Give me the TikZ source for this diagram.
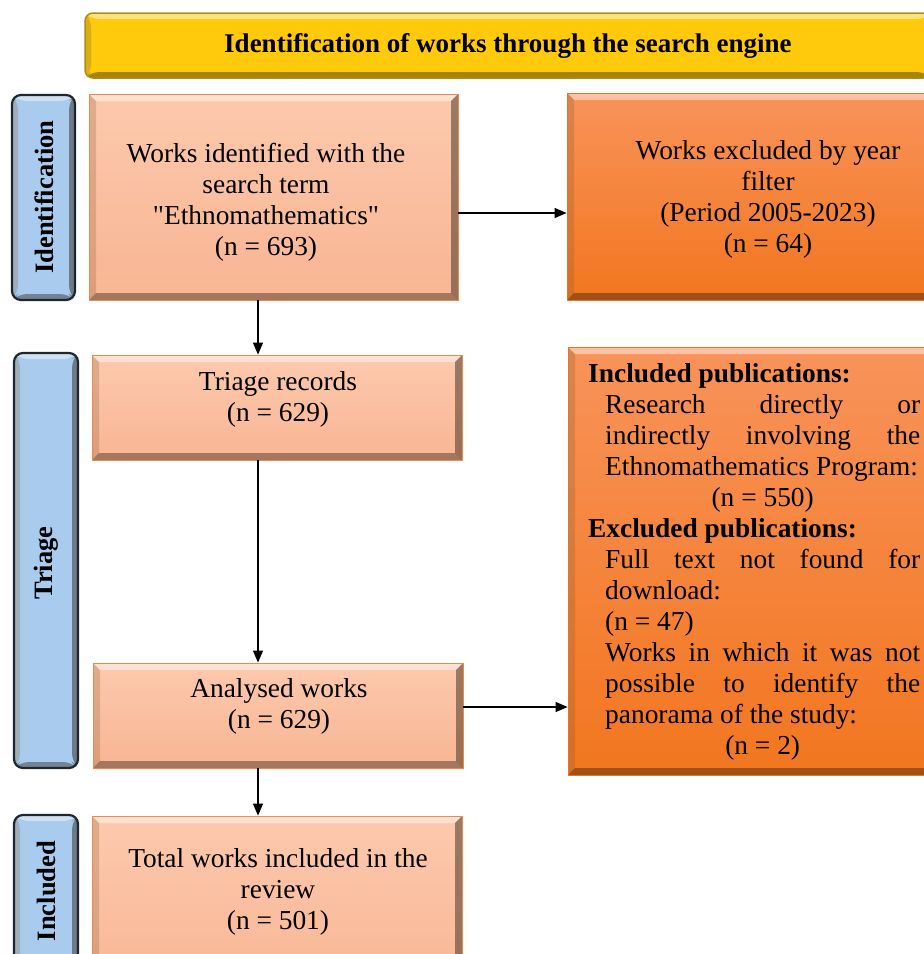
\documentclass[tikz,border=0pt]{standalone}
\usepackage{fontspec}
\setmainfont{Liberation Serif}[Ligatures=TeXOff]
\usetikzlibrary{arrows.meta}
\definecolor{peachT}{HTML}{FCC9AD}
\definecolor{peachD}{HTML}{F8B593}
\definecolor{peachB}{HTML}{E98A4E}
\definecolor{orT}{HTML}{F8935A}
\definecolor{orD}{HTML}{F2761F}
\definecolor{orB}{HTML}{E3742A}
\definecolor{sideF}{HTML}{A8CBEE}
\definecolor{sideB}{HTML}{20262E}
\definecolor{yelF}{HTML}{FFC90C}
\definecolor{yelB}{HTML}{A88F14}
\tikzset{
  bev/.style={path picture={
    \fill[white,opacity=0.45] (path picture bounding box.north west) -- (path picture bounding box.north east)
       -- ([xshift=-#1,yshift=-#1]path picture bounding box.north east) -- ([xshift=#1,yshift=-#1]path picture bounding box.north west) -- cycle;
    \fill[brown!70!black,opacity=0.25] (path picture bounding box.north west) -- (path picture bounding box.south west)
       -- ([xshift=#1,yshift=#1]path picture bounding box.south west) -- ([xshift=#1,yshift=-#1]path picture bounding box.north west) -- cycle;
    \fill[black!80!brown,opacity=0.45] (path picture bounding box.north east) -- (path picture bounding box.south east)
       -- ([xshift=-#1,yshift=#1]path picture bounding box.south east) -- ([xshift=-#1,yshift=-#1]path picture bounding box.north east) -- cycle;
    \fill[black!80!brown,opacity=0.4] (path picture bounding box.south west) -- (path picture bounding box.south east)
       -- ([xshift=-#1,yshift=#1]path picture bounding box.south east) -- ([xshift=#1,yshift=#1]path picture bounding box.south west) -- cycle;
  }},
  peachbox/.style={draw=peachB, line width=0.8pt, top color=peachT, bottom color=peachD, bev=7pt, inner sep=0pt},
  orbox/.style={draw=orB, line width=0.8pt, top color=orT, bottom color=orD, bev=7pt, inner sep=0pt},
  sidebox/.style={draw=sideB, line width=2.2pt, fill=sideF, rounded corners=9pt, bev=6pt, inner sep=0pt},
  txt/.style={font=\fontsize{27.4}{31}\selectfont, align=center, inner sep=0pt},
  sidetxt/.style={font=\fontsize{26.5}{30}\selectfont\bfseries, rotate=90, inner sep=0pt},
  arr/.style={line width=1.2pt, -{Triangle[length=12pt,width=10pt]}},
}
\begin{document}
\begin{tikzpicture}[x=1pt,y=-1pt]
\useasboundingbox (0,0) rectangle (924,954);
\clip (0,0) rectangle (924,954);

% banner
\node[draw=yelB, line width=1.5pt, fill=yelF, rounded corners=8pt, bev=6pt, minimum width=846pt, minimum height=65pt] (banner) at (508,45.5) {};
\node[font=\fontsize{27}{31}\selectfont\bfseries, inner sep=0pt] (bannertxt) at (508,46) {Identification of works through the search engine};

% side labels
\node[sidebox, minimum width=63pt, minimum height=205pt] (side1) at (43.5,197.5) {};
\node[sidetxt] (side1t) at (44,197) {Identification};
\node[sidebox, minimum width=64pt, minimum height=415pt] (side2) at (46,560.5) {};
\node[sidetxt] (side2t) at (46,563) {Triage};
\node[sidebox, minimum width=64pt, minimum height=185pt] (side3) at (46,907.5) {};
\node[sidetxt] (side3t) at (46,891) {Included};

% main boxes
\node[peachbox, minimum width=369pt, minimum height=206pt] (box1) at (273.5,197) {};
\node[txt] (box1t) at (266,202) {Works identified with the\\search term\\"Ethnomathematics"\\(n = 693)};

\node[orbox, minimum width=402pt, minimum height=207pt] (excl) at (768,196.5) {};
\node[txt] (exclt) at (768,199) {Works excluded by year\\filter\\(Period 2005-2023)\\(n = 64)};

\node[peachbox, minimum width=370pt, minimum height=105pt] (tri) at (277,407.5) {};
\node[txt] (trit) at (278,399) {Triage records\\(n = 629)};

\node[peachbox, minimum width=370pt, minimum height=105pt] (ana) at (278,715.5) {};
\node[txt] (anat) at (279,706.5) {Analysed works\\(n = 629)};

\node[peachbox, minimum width=370pt, minimum height=184pt] (inc) at (277,908) {};
\node[txt] (inct) at (278,891.5) {Total works included in the\\review\\(n = 501)};

\node[orbox, minimum width=392pt, minimum height=428pt] (big) at (764,561) {};
\node[anchor=base west, inner sep=0pt] (bigt) at (588,382) {\begin{minipage}[t]{332pt}
\fontsize{27.4}{31}\selectfont\hyphenpenalty=10000 \tolerance=10000 \hbadness=10000 \parindent=0pt
\textbf{Included publications:}\par
\leftskip=17pt
Research directly or\linebreak indirectly involving the\linebreak Ethnomathematics Program:\par
{\leftskip=17pt plus 1fil \rightskip=0pt plus 1fil \parfillskip=0pt (n = 550)\par}
\leftskip=0pt
\textbf{Excluded publications:}\par
\leftskip=17pt
Full text not found for\linebreak download:\par
(n = 47)\par
Works in which it was not\linebreak possible to identify the\linebreak panorama of the study:\par
{\leftskip=17pt plus 1fil \rightskip=0pt plus 1fil \parfillskip=0pt (n = 2)\par}
\end{minipage}};

% connectors
\coordinate (trunk) at (258,0);
\coordinate (row1) at (0,213);
\coordinate (row2) at (0,707);
\draw[arr] (box1.south -| trunk) -- (tri.north -| trunk);
\draw[arr] (tri.south -| trunk) -- (ana.north -| trunk);
\draw[arr] (ana.south -| trunk) -- (inc.north -| trunk);
\draw[arr] (box1.east |- row1) -- (excl.west |- row1);
\draw[arr] (ana.east |- row2) -- (big.west |- row2);
\end{tikzpicture}
\end{document}
